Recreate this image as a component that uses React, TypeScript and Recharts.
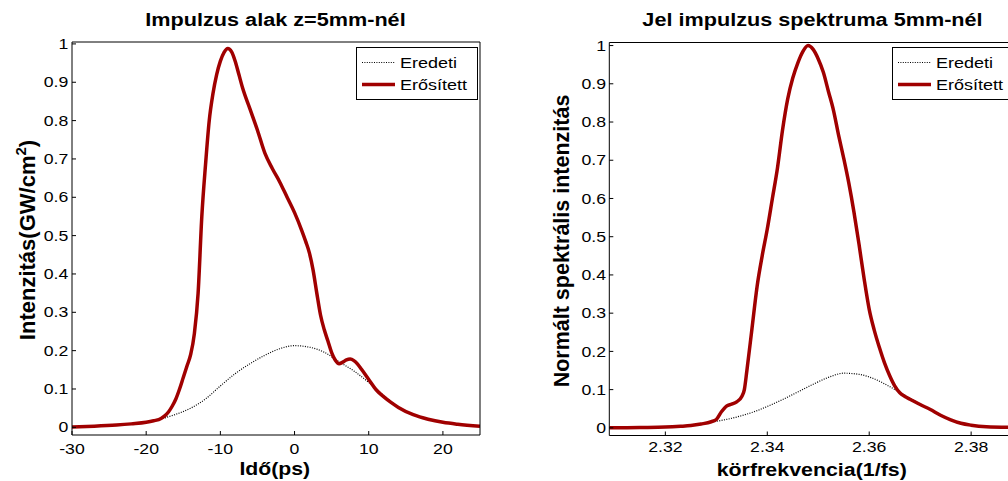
import React from 'react';
import { LineChart, Line, XAxis, YAxis, Legend } from 'recharts';

const FONT = '"Liberation Sans", Arial, Helvetica, sans-serif';
const RED = '#A00000';

// ---- Left panel: pulse shape at z = 5 mm (time in ps, intensity GW/cm^2)
const pulseOriginal: [number, number][] = [
  [-30, 0.001], [-27, 0.003], [-24, 0.006], [-22, 0.009], [-20, 0.013], [-18, 0.022],
  [-16, 0.034], [-14, 0.05], [-12, 0.074], [-10, 0.108], [-8, 0.14], [-6, 0.166],
  [-4, 0.188], [-2, 0.205], [0, 0.213], [2, 0.209], [4, 0.196], [6, 0.171],
  [8, 0.147], [10, 0.117], [12, 0.083], [14, 0.053], [16, 0.033], [18, 0.021],
  [20, 0.013], [22, 0.008], [25, 0.003],
];

const pulseAmplified: [number, number][] = [
  [-30, 0.001], [-27, 0.003], [-24, 0.006], [-22, 0.009], [-20, 0.013], [-19, 0.017],
  [-18, 0.023], [-17.5, 0.03], [-17, 0.04], [-16.5, 0.055], [-16, 0.074], [-15.5, 0.1],
  [-15, 0.13], [-14.5, 0.16], [-14, 0.19], [-13.5, 0.245], [-13, 0.35], [-12.5, 0.55],
  [-12, 0.685], [-11.5, 0.8], [-11, 0.87], [-10.5, 0.92], [-10, 0.955], [-9.5, 0.978],
  [-9, 0.988], [-8.5, 0.98], [-8, 0.955], [-7.5, 0.92], [-7, 0.885], [-6, 0.83],
  [-5, 0.775], [-4, 0.715], [-3, 0.675], [-2, 0.64], [-1, 0.6], [0, 0.56],
  [1, 0.512], [1.5, 0.485], [2, 0.455], [2.5, 0.41], [3, 0.35], [3.5, 0.293],
  [4, 0.255], [4.5, 0.225], [5, 0.195], [5.5, 0.175], [6, 0.166], [6.5, 0.17],
  [7, 0.176], [7.5, 0.178], [8, 0.174], [8.5, 0.165], [9, 0.152], [10, 0.125],
  [11, 0.098], [12, 0.08], [13, 0.065], [14, 0.052], [16, 0.033], [18, 0.021],
  [20, 0.013], [22, 0.008], [25, 0.003],
];

// ---- Right panel: signal spectrum at 5 mm (angular frequency 1/fs, normalised)
const spectrumOriginal: [number, number][] = [
  [2.309, 0.0], [2.315, 0.001], [2.32, 0.002], [2.325, 0.006], [2.329, 0.015],
  [2.332, 0.022], [2.335, 0.032], [2.338, 0.045], [2.34, 0.056], [2.343, 0.074],
  [2.346, 0.094], [2.349, 0.114], [2.352, 0.132], [2.355, 0.143], [2.358, 0.14],
  [2.361, 0.128], [2.364, 0.108], [2.367, 0.085], [2.37, 0.062], [2.372, 0.048],
  [2.374, 0.033], [2.376, 0.021], [2.378, 0.012], [2.38, 0.007], [2.383, 0.003],
  [2.389, 0.001],
];

const spectrumAmplified: [number, number][] = [
  [2.309, 0.0], [2.315, 0.001], [2.32, 0.002], [2.323, 0.004], [2.325, 0.006],
  [2.327, 0.01], [2.329, 0.016], [2.33, 0.022], [2.331, 0.042], [2.332, 0.057],
  [2.333, 0.062], [2.334, 0.068], [2.335, 0.082], [2.3355, 0.1], [2.336, 0.15],
  [2.337, 0.26], [2.338, 0.37], [2.339, 0.45], [2.34, 0.52], [2.341, 0.6],
  [2.342, 0.68], [2.343, 0.78], [2.344, 0.86], [2.345, 0.915], [2.346, 0.955],
  [2.347, 0.985], [2.348, 1.0], [2.349, 0.99], [2.35, 0.965], [2.351, 0.93],
  [2.352, 0.88], [2.353, 0.83], [2.354, 0.765], [2.355, 0.705], [2.356, 0.64],
  [2.357, 0.565], [2.358, 0.48], [2.359, 0.39], [2.36, 0.31], [2.361, 0.255],
  [2.362, 0.21], [2.363, 0.17], [2.364, 0.137], [2.365, 0.11], [2.366, 0.092],
  [2.367, 0.082], [2.368, 0.075], [2.37, 0.061], [2.372, 0.048], [2.374, 0.033],
  [2.376, 0.021], [2.378, 0.012], [2.38, 0.007], [2.383, 0.003], [2.389, 0.001],
];

const pulseTicksX = [-30, -20, -10, 0, 10, 20];
const spectrumTicksX = [2.32, 2.34, 2.36, 2.38];
const yTicks = [0, 0.1, 0.2, 0.3, 0.4, 0.5, 0.6, 0.7, 0.8, 0.9, 1];

const seriesNames = ['Eredeti', 'Erősített'];
const titles = ['Impulzus alak z=5mm-nél', 'Jel impulzus spektruma 5mm-nél'];
const xLabels = ['Idő(ps)', 'körfrekvencia(1/fs)'];
const yLabelRight = 'Normált spektrális intenzitás';

const toPoints = (arr: [number, number][]) => arr.map(([x, y]) => ({ x, y }));

const XTick = (props: any) => {
  const { x, y, payload } = props;
  return (
    <g transform={`translate(${x},${y})`}>
      <text x={0} y={0} dy="0.71em" textAnchor="middle" transform="scale(1.22,1)"
        fontSize={14.5} fontFamily={FONT} fill="#000" stroke="none">{String(payload.value)}</text>
    </g>
  );
};

const YTick = (props: any) => {
  const { x, y, payload } = props;
  return (
    <g transform={`translate(${x},${y})`}>
      <text x={0} y={0} dy="0.355em" textAnchor="end" transform="scale(1.22,1)"
        fontSize={14.5} fontFamily={FONT} fill="#000" stroke="none">{String(payload.value)}</text>
    </g>
  );
};

const LegendBox = () => (
  <svg width={122} height={53} style={{ display: 'block', overflow: 'visible' }}>
    <rect x={0.5} y={0.5} width={121} height={52} fill="#fff" stroke="#000" strokeWidth={1} />
    <line x1={6} x2={39} y1={15.5} y2={15.5} stroke="#000" strokeWidth={1.2} strokeDasharray="1 1.4" />
    <text x={0} y={0} transform="translate(44,15.5) scale(1.2,1)" dy="0.355em" fontSize={15}
      fontFamily={FONT} fill="#000">{seriesNames[0]}</text>
    <line x1={6} x2={39} y1={37.5} y2={37.5} stroke={RED} strokeWidth={3.5} />
    <text x={0} y={0} transform="translate(44,37.5) scale(1.2,1)" dy="0.355em" fontSize={15}
      fontFamily={FONT} fill="#000">{seriesNames[1]}</text>
  </svg>
);

type PanelProps = {
  width: number;
  margin: { top: number; right: number; bottom: number; left: number };
  xDomain: [number, number];
  yDomain: [number, number];
  xTicks: number[];
  original: [number, number][];
  amplified: [number, number][];
  xTickMargin: number;
  yTickMargin: number;
  legendLeft: number;
};

function Panel(p: PanelProps) {
  return (
    <LineChart width={p.width} height={481} margin={p.margin}>
      <XAxis xAxisId="b" dataKey="x" type="number" domain={p.xDomain} ticks={p.xTicks}
        allowDataOverflow interval={0} height={30} tickSize={-4} tickMargin={p.xTickMargin}
        tick={<XTick />} stroke="#000" axisLine={{ stroke: '#000' }} tickLine={{ stroke: '#000' }} />
      <XAxis xAxisId="t" orientation="top" dataKey="x" type="number" domain={p.xDomain} ticks={p.xTicks}
        allowDataOverflow interval={0} height={1} tickSize={-4} tick={false} stroke="#000"
        axisLine={{ stroke: '#000' }} tickLine={{ stroke: '#000' }} />
      <YAxis yAxisId="l" type="number" domain={p.yDomain} ticks={yTicks} allowDataOverflow interval={0}
        width={60} tickSize={-4} tickMargin={p.yTickMargin} tick={<YTick />} stroke="#000"
        axisLine={{ stroke: '#000' }} tickLine={{ stroke: '#000' }} />
      <YAxis yAxisId="r" orientation="right" type="number" domain={p.yDomain} ticks={yTicks}
        allowDataOverflow interval={0} width={1} tickSize={-4} tick={false} stroke="#000"
        axisLine={{ stroke: '#000' }} tickLine={{ stroke: '#000' }} />
      <Line xAxisId="b" yAxisId="l" data={toPoints(p.original)} dataKey="y" name={seriesNames[0]}
        type="monotone" stroke="#000" strokeWidth={1.2} strokeDasharray="1 1.4" dot={false}
        activeDot={false} isAnimationActive={false} />
      <Line xAxisId="b" yAxisId="l" data={toPoints(p.amplified)} dataKey="y" name={seriesNames[1]}
        type="monotone" stroke={RED} strokeWidth={3.5} dot={false} activeDot={false}
        isAnimationActive={false} />
      <Legend layout="vertical" align="center" verticalAlign="middle"
        wrapperStyle={{ position: 'absolute', left: p.legendLeft, top: 47, width: 122, height: 53 }}
        content={() => <LegendBox />} />
    </LineChart>
  );
}

export default function App() {
  return (
    <div style={{ position: 'absolute', left: 0, top: 0, width: 1008, height: 481, overflow: 'hidden', background: '#fff' }}>
      <div style={{ position: 'absolute', left: 0, top: 0, width: 500, height: 481 }}>
        <Panel width={500} margin={{ top: 41, right: 19, bottom: 16, left: 12 }}
          xDomain={[-30, 25]} yDomain={[-0.02, 1.005]} xTicks={pulseTicksX}
          original={pulseOriginal} amplified={pulseAmplified}
          xTickMargin={13} yTickMargin={7.7} legendLeft={356} />
      </div>
      <div style={{ position: 'absolute', left: 500, top: 0, width: 520, height: 481 }}>
        <Panel width={520} margin={{ top: 41.5, right: 2, bottom: 15.5, left: 49.3 }}
          xDomain={[2.309, 2.389]} yDomain={[-0.02, 1.008]} xTicks={spectrumTicksX}
          original={spectrumOriginal} amplified={spectrumAmplified}
          xTickMargin={10.5} yTickMargin={7.3} legendLeft={392} />
      </div>
      <svg width={1008} height={481} style={{ position: 'absolute', left: 0, top: 0, pointerEvents: 'none' }}>
        <g fontFamily={FONT} fontWeight="bold" fill="#000">
          <text transform="translate(275.5,26) scale(1.17,1)" textAnchor="middle" fontSize={18.5}>{titles[0]}</text>
          <text transform="translate(812.5,26) scale(1.17,1)" textAnchor="middle" fontSize={18.5}>{titles[1]}</text>
          <text transform="translate(274.7,475) scale(1.14,1)" textAnchor="middle" fontSize={18.6}>{xLabels[0]}</text>
          <text transform="translate(811.7,475.5) scale(1.15,1)" textAnchor="middle" fontSize={18.6}>{xLabels[1]}</text>
          <text transform="translate(35,240) rotate(-90)" textAnchor="middle" fontSize={22}>
            Intenzitás(GW/cm<tspan dy={-9} fontSize={15}>2</tspan><tspan dy={9} fontSize={22}>)</tspan>
          </text>
          <text transform="translate(569,241) rotate(-90)" textAnchor="middle" fontSize={21.5}>{yLabelRight}</text>
        </g>
      </svg>
    </div>
  );
}
